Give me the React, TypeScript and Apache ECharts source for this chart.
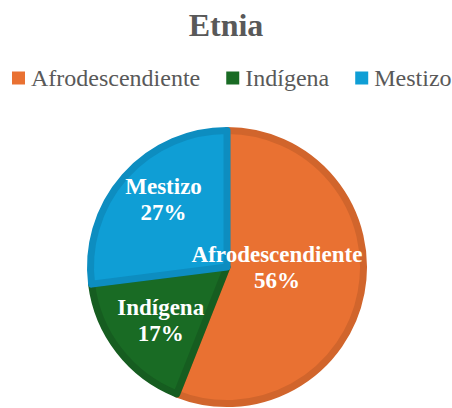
import React, { useEffect, useRef } from "react";
import * as echarts from "echarts";

const categories = ["Afrodescendiente", "Indígena", "Mestizo"];
const values = [56, 17, 27];
const fillColors = ["#E97132", "#196B24", "#0F9ED5"];
const borderColors = ["#D1652C", "#165D20", "#0D8DC0"];
const labelShifts = [
  [-20, -13],
  [-10, 10],
  [-10, -20],
];

export default function App() {
  const ref = useRef<HTMLDivElement>(null);
  useEffect(() => {
    document.body.style.margin = "0";
    if (!ref.current) return;
    const chart = echarts.init(ref.current, undefined, { renderer: "svg" });
    const font = "Liberation Serif";
    const legendText = { fontFamily: font, fontSize: 24, color: "#595959", padding: [0, 0, 0, 1] };
    chart.setOption({
      animation: false,
      textStyle: { fontFamily: font },
      title: {
        text: "Etnia",
        left: "center",
        top: 4,
        textStyle: {
          fontFamily: font,
          fontWeight: "bold",
          fontSize: 32,
          color: "#595959",
        },
      },
      legend: {
        data: categories.map((name) => ({ name, textStyle: legendText })),
        left: 12,
        top: 66,
        width: 440,
        padding: 0,
        icon: "rect",
        itemWidth: 13,
        itemHeight: 13,
        itemGap: 26,
        itemStyle: { borderWidth: 0 },
        textStyle: legendText,
      },
      series: [
        {
          type: "pie",
          center: [227, 267],
          radius: 136.5,
          startAngle: 90,
          clockwise: true,
          data: categories.map((name, i) => ({
            name,
            value: values[i],
            itemStyle: {
              color: fillColors[i],
              borderColor: borderColors[i],
              borderWidth: 7,
            },
          })),
          label: {
            show: true,
            position: "inside",
            formatter: "{b}\n{d}%",
            fontFamily: font,
            fontWeight: "bold",
            fontSize: 23,
            lineHeight: 26,
            color: "#FFFFFF",
          },
          labelLayout: (params: any) => ({
            dx: labelShifts[params.dataIndex][0],
            dy: labelShifts[params.dataIndex][1],
          }),
          labelLine: { show: false },
          emphasis: { disabled: true },
        },
      ],
    });
    return () => chart.dispose();
  }, []);
  return <div ref={ref} style={{ width: 452, height: 408 }} />;
}
